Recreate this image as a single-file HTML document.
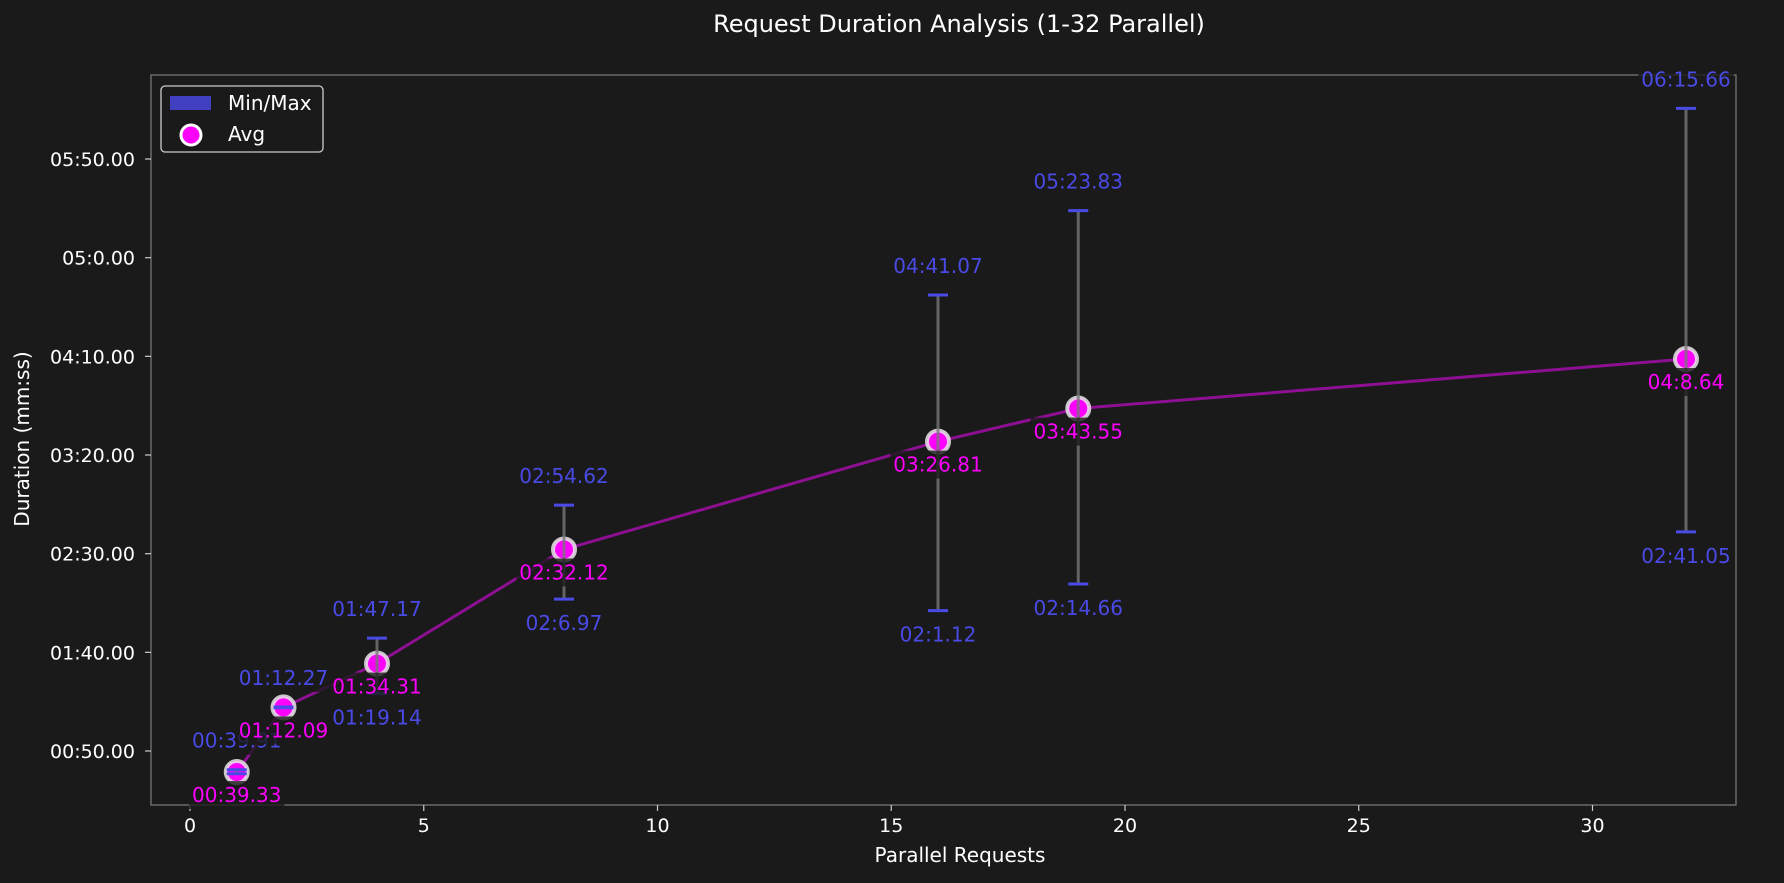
<!DOCTYPE html>
<html><head><meta charset="utf-8"><style>
html,body{margin:0;padding:0;background:#1a1a1a;}
svg{display:block;font-family:"DejaVu Sans","Liberation Sans",sans-serif;}
</style></head><body>
<svg id="chart" width="1784" height="883" viewBox="0 0 1784 883" xmlns="http://www.w3.org/2000/svg">
<rect width="1784" height="883" fill="#1a1a1a"/>
<text x="959" y="32" fill="#ffffff" font-size="24" text-anchor="middle">Request Duration Analysis (1-32 Parallel)</text>
<g id="plot"></g>
<text x="960" y="862" fill="#ffffff" font-size="20" text-anchor="middle">Parallel Requests</text>
<text transform="translate(29,439) rotate(-90)" fill="#ffffff" font-size="20" text-anchor="middle">Duration (mm:ss)</text>
<g>
<rect x="161" y="86" width="162" height="66" rx="4" fill="#1a1a1a" stroke="#cccccc" stroke-width="1.3"/>
<rect x="170" y="96" width="41" height="14" fill="#4040c0"/>
<text x="228" y="110" fill="#ffffff" font-size="20">Min/Max</text>
<circle cx="191" cy="135" r="10" fill="#ff00ff" stroke="#ffffff" stroke-width="3"/>
<text x="228" y="141" fill="#ffffff" font-size="20">Avg</text>
</g>
</svg>
<script>
const parallel = [1, 2, 4, 8, 16, 19, 32];
const minVals = [38.5, 71.9, 79.14, 126.97, 121.12, 134.66, 161.05];
const maxVals = [40.5, 72.27, 107.17, 174.62, 281.07, 323.83, 375.66];
const avgVals = [39.33, 72.09, 94.31, 152.12, 206.81, 223.55, 248.64];
const maxLabels = ["00:39.91", "01:12.27", "01:47.17", "02:54.62", "04:41.07", "05:23.83", "06:15.66"];
const minLabels = ["", "", "01:19.14", "02:6.97", "02:1.12", "02:14.66", "02:41.05"];
const avgLabels = ["00:39.33", "01:12.09", "01:34.31", "02:32.12", "03:26.81", "03:43.55", "04:8.64"];
const xTicks = [0, 5, 10, 15, 20, 25, 30];
const yTicks = [50, 100, 150, 200, 250, 300, 350];
const yTickLabels = ["00:50.00", "01:40.00", "02:30.00", "03:20.00", "04:10.00", "05:0.00", "05:50.00"];

const L=151, R=1736, T=75, B=805;
const xs = v => 190 + v*46.75;
const ys = v => 751 - (v-50)*1.9733;
const NS="http://www.w3.org/2000/svg";
const g=document.getElementById('plot');
function mk(tag, attrs, parent){const e=document.createElementNS(NS,tag);for(const k in attrs)e.setAttribute(k,attrs[k]);(parent||g).appendChild(e);return e;}
function txt(s,x,y,attrs){const e=mk('text',Object.assign({x:x,y:y},attrs));e.textContent=s;return e;}

const frame=mk('rect',{x:L,y:T,width:R-L,height:B-T,fill:'none',stroke:'#777','stroke-width':1.3});



xTicks.forEach(t=>{
  const x=xs(t);
  mk('line',{x1:x,x2:x,y1:B,y2:B+6,stroke:'#ccc','stroke-width':1.2});
  const e=txt(String(t),x,B+27,{fill:'#fff','font-size':19,'text-anchor':'middle'});
  
  
});
yTicks.forEach((t,i)=>{
  const y=ys(t);
  mk('line',{x1:L-6,x2:L,y1:y,y2:y,stroke:'#ccc','stroke-width':1.2});
  const e=txt(yTickLabels[i],L-16,y+7,{fill:'#fff','font-size':19,'text-anchor':'end'});
  
  
});

const pts=parallel.map((p,i)=>xs(p)+','+ys(avgVals[i])).join(' ');
const line=mk('polyline',{points:pts,fill:'none',stroke:'#9a0fa0','stroke-width':3,'stroke-opacity':0.9});


parallel.forEach((p,i)=>{
  const c=mk('circle',{cx:xs(p),cy:ys(avgVals[i]),r:11,fill:'#ff00ff',stroke:'#e8e8e8','stroke-width':4,'stroke-opacity':0.85});
  
  
});
parallel.forEach((p,i)=>{
  const x=xs(p), y1=ys(minVals[i]), y2=ys(maxVals[i]);
  const bar=mk('line',{x1:x,x2:x,y1:y1,y2:y2,stroke:'#777','stroke-width':3,'stroke-opacity':0.8});
  
  
  mk('line',{x1:x-10,x2:x+10,y1:y1,y2:y1,stroke:'#4a4ae6','stroke-width':3});
  mk('line',{x1:x-10,x2:x+10,y1:y2,y2:y2,stroke:'#4a4ae6','stroke-width':3});
});
function boxed(s,x,y,color,name){
  const r=mk('rect',{fill:'#1a1a1a','fill-opacity':0.8});
  const e=txt(s,x,y,{fill:color,'font-size':20,'text-anchor':'middle'});
  
  
  const b=e.getBBox();
  r.setAttribute('x',b.x-3);r.setAttribute('y',b.y-2);
  r.setAttribute('width',b.width+6);r.setAttribute('height',b.height+4);
}
parallel.forEach((p,i)=>{
  const x=xs(p);
  boxed(maxLabels[i],x,ys(maxVals[i])-22,'#4a4ae6','max-label');
  if(minLabels[i]) boxed(minLabels[i],x,ys(minVals[i])+31,'#4a4ae6','min-label');
  boxed(avgLabels[i],x,ys(avgVals[i])+30,'#ff00ff','avg-label');
});
</script>
</body></html>
